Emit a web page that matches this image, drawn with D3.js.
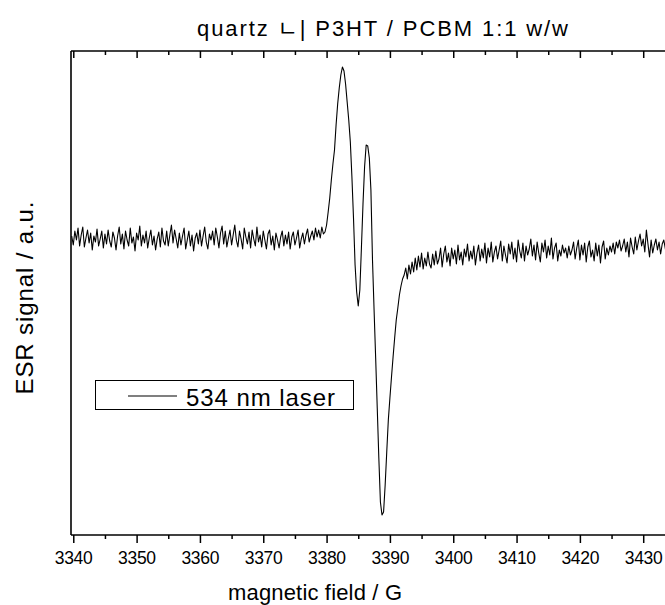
<!DOCTYPE html>
<html>
<head>
<meta charset="utf-8">
<script src="https://cdn.jsdelivr.net/npm/d3@7"></script>
<style>
  html, body { margin: 0; padding: 0; background: #fff; }
  svg { display: block; }
  text { font-family: "Liberation Sans", Arial, "Noto Sans CJK KR", sans-serif; fill: #000; }
</style>
</head>
<body>
<svg id="chart" width="665" height="605"></svg>
<script>
// ---------------- DATA ----------------
const titleText = "quartz \u3134| P3HT / PCBM 1:1 w/w";
const xLabelText = "magnetic field / G";
const yLabelText = "ESR signal / a.u.";
const legendText = "534 nm laser";

// magnetic field sweep (G): uniform sweep start and step
const fieldStart = 3339.75;
const fieldStep = 0.25;

// ESR signal (a.u.)
const baselineLow = [
  4, -5, 9, 0, 12, -6, 5, 13, -7, 2, 10, -3, 7, -10, 4, -2, 11, -6, 1, 9,
  -8, 6, -4, 10, -1, -7, 8, 2, -10, 4, 13, -4, 6, -9, 9, 0, -6, 12, -3, 3,
  -11, 7, 0, 14, -6, 5, -3, 9, -8, 2, 10, -5, 4, -10, 1, 8, -7, 12, -1, -5,
  9, -6, 5, 15, -3, 10, 1, -8, 7, -5, 4, 12, -9, 0, 9, -6, 5, -11, 2, 7,
  -4, 10, -6, 4, 13, -2, -9, 6, 0, 9, -5, 12, 3, -8, 7, 14, -4, 9, -7, 2,
  10, -5, 5, 15, 0, -7, 9, 1, -9, 12, 3, -4, 8, -8, 10, 1, -6, 13, -2, 5,
  -7, 9, 0, -9, 6, 10, -5, 4, -10, 7, 0, -8, 3, 9, -6, 5, -4, 8, -9, 3,
  8, -5, 2, 10, -8, 1, 7, -4, 5, 11, -2, 4, 9, 0, 12, 3, 10, 2, 13, 6
];
const resonance = [
  8, 15, 28, 42, 60, 76, 90, 115, 136,
  152, 165, 173, 169, 156, 138, 120, 98,
  63, 22, -25, -52, -66, -50, -8, 36,
  73, 95, 94, 82, 50, -20, -70, -118,
  -168, -218, -262, -275, -272, -245, -212, -180,
  -158, -137, -117, -98, -80, -68, -55, -46, -39
];
const baselineHigh = [
  -35, -28, -39, -25, -34, -22, -32, -18, -30, -16, -27, -13, -29, -18, -26, -12, -24, -28, -14, -25,
  -11, -24, -19, -8, -27, -14, -6, -22, -13, -26, -8, -19, -10, -24, -5, -20, -12, -25, -9, -17,
  -4, -21, -11, -19, -6, -25, -13, -5, -21, -9, -18, -3, -23, -8, -17, -2, -22, -12, -6, -19,
  -10, -1, -21, -6, -15, -23, -4, -14, -2, -19, -8, -22, 0, -11, -18, -3, -21, -6, -15, -9,
  1, -16, -5, -20, -2, -13, -22, -3, -12, 0, -18, -6, -15, 2, -19, -8, -3, -21, -10, -16,
  -5, -13, -8, -18, -6, -15, -10, -2, -19, -8, 0, -20, -5, -15, -3, -22, -7, -1, -17, -10,
  -21, -3, -16, -5, -23, -7, -1, -19, -8, -15, -6, -12, -3, -14, -2, -8, 0, -11, -6, 1,
  -12, -2, -17, 2, -7, -14, 3, -10, -1, 6, -6, 1, -12, 10, -4, -17, 0, -13, -5, 1,
  -10, -2, -14, -4, 0, -9, 3, -6, -1
];

const majorTicks = [3340, 3350, 3360, 3370, 3380, 3390, 3400, 3410, 3420, 3430];
const minorTicks = [3345, 3355, 3365, 3375, 3385, 3395, 3405, 3415, 3425, 3435];
const xDomain = [3339.64, 3433.44];
const yDomain = [-295, 189];

// ---------------- CHART ----------------
const signal = baselineLow.concat(resonance, baselineHigh);
const data = signal.map((v, i) => ({ f: fieldStart + i * fieldStep, v }));

const svg = d3.select("#chart");
const mLeft = 71, mRight = 665, mTop = 51, mBottom = 535;

const x = d3.scaleLinear().domain(xDomain).range([mLeft, mRight]);
const y = d3.scaleLinear().domain(yDomain).range([mBottom, mTop]);

svg.append("defs").append("clipPath").attr("id", "clip")
  .append("rect").attr("x", mLeft).attr("y", mTop).attr("width", mRight - mLeft).attr("height", mBottom - mTop);

// trace
svg.append("path")
  .datum(data)
  .attr("clip-path", "url(#clip)")
  .attr("fill", "none")
  .attr("stroke", "#000")
  .attr("stroke-width", 1.1)
  .attr("stroke-linejoin", "round")
  .attr("d", d3.line().x(d => x(d.f)).y(d => y(d.v)));

function styleAxis(g) {
  g.select(".domain").remove();
  g.selectAll("line").attr("stroke", "#000").attr("stroke-width", 1.5);
}

const minorVisible = minorTicks.filter(t => x(t) <= mRight);

// bottom axis
const bottomMajor = svg.append("g").attr("transform", `translate(0,${mBottom})`)
  .call(d3.axisBottom(x).tickValues(majorTicks).tickSize(8).tickPadding(9).tickFormat(d3.format("d")));
styleAxis(bottomMajor);
bottomMajor.selectAll("text").attr("font-size", 17.5).attr("textLength", 38).attr("lengthAdjust", "spacing")
  .attr("font-family", "Liberation Sans, Arial, sans-serif");
const bottomMinor = svg.append("g").attr("transform", `translate(0,${mBottom})`)
  .call(d3.axisBottom(x).tickValues(minorVisible).tickSize(4).tickFormat(""));
styleAxis(bottomMinor);

// top axis (ticks inward)
const topMajor = svg.append("g").attr("transform", `translate(0,${mTop})`)
  .call(d3.axisBottom(x).tickValues(majorTicks).tickSize(7).tickFormat(""));
styleAxis(topMajor);
const topMinor = svg.append("g").attr("transform", `translate(0,${mTop})`)
  .call(d3.axisBottom(x).tickValues(minorVisible).tickSize(4).tickFormat(""));
styleAxis(topMinor);

// frame lines
svg.append("line").attr("x1", mLeft).attr("x2", mRight).attr("y1", mTop).attr("y2", mTop)
  .attr("stroke", "#000").attr("stroke-width", 1.6);
svg.append("line").attr("x1", mLeft).attr("x2", mRight).attr("y1", mBottom).attr("y2", mBottom)
  .attr("stroke", "#000").attr("stroke-width", 1.6);
svg.append("line").attr("x1", mLeft).attr("x2", mLeft).attr("y1", mTop).attr("y2", mBottom)
  .attr("stroke", "#000").attr("stroke-width", 1.6);

// title
svg.append("text").attr("x", 382.5).attr("y", 36).attr("text-anchor", "middle")
  .attr("font-size", 22).attr("textLength", 371).attr("lengthAdjust", "spacing")
  .text(titleText);

// x label
svg.append("text").attr("x", 315).attr("y", 600).attr("text-anchor", "middle")
  .attr("font-size", 22).attr("textLength", 174).attr("lengthAdjust", "spacing")
  .text(xLabelText);

// y label
svg.append("text").attr("transform", "translate(33,298) rotate(-90)").attr("text-anchor", "middle")
  .attr("font-size", 24).attr("textLength", 193).attr("lengthAdjust", "spacing")
  .text(yLabelText);

// legend
const lg = svg.append("g");
lg.append("rect").attr("x", 95.5).attr("y", 380.5).attr("width", 258).attr("height", 29)
  .attr("fill", "#fff").attr("stroke", "#000").attr("stroke-width", 1);
lg.append("line").attr("x1", 128).attr("x2", 177).attr("y1", 396).attr("y2", 396)
  .attr("stroke", "#000").attr("stroke-width", 1.1);
lg.append("text").attr("x", 186).attr("y", 406)
  .attr("font-size", 24).attr("textLength", 149).attr("lengthAdjust", "spacing")
  .text(legendText);
</script>
</body>
</html>
